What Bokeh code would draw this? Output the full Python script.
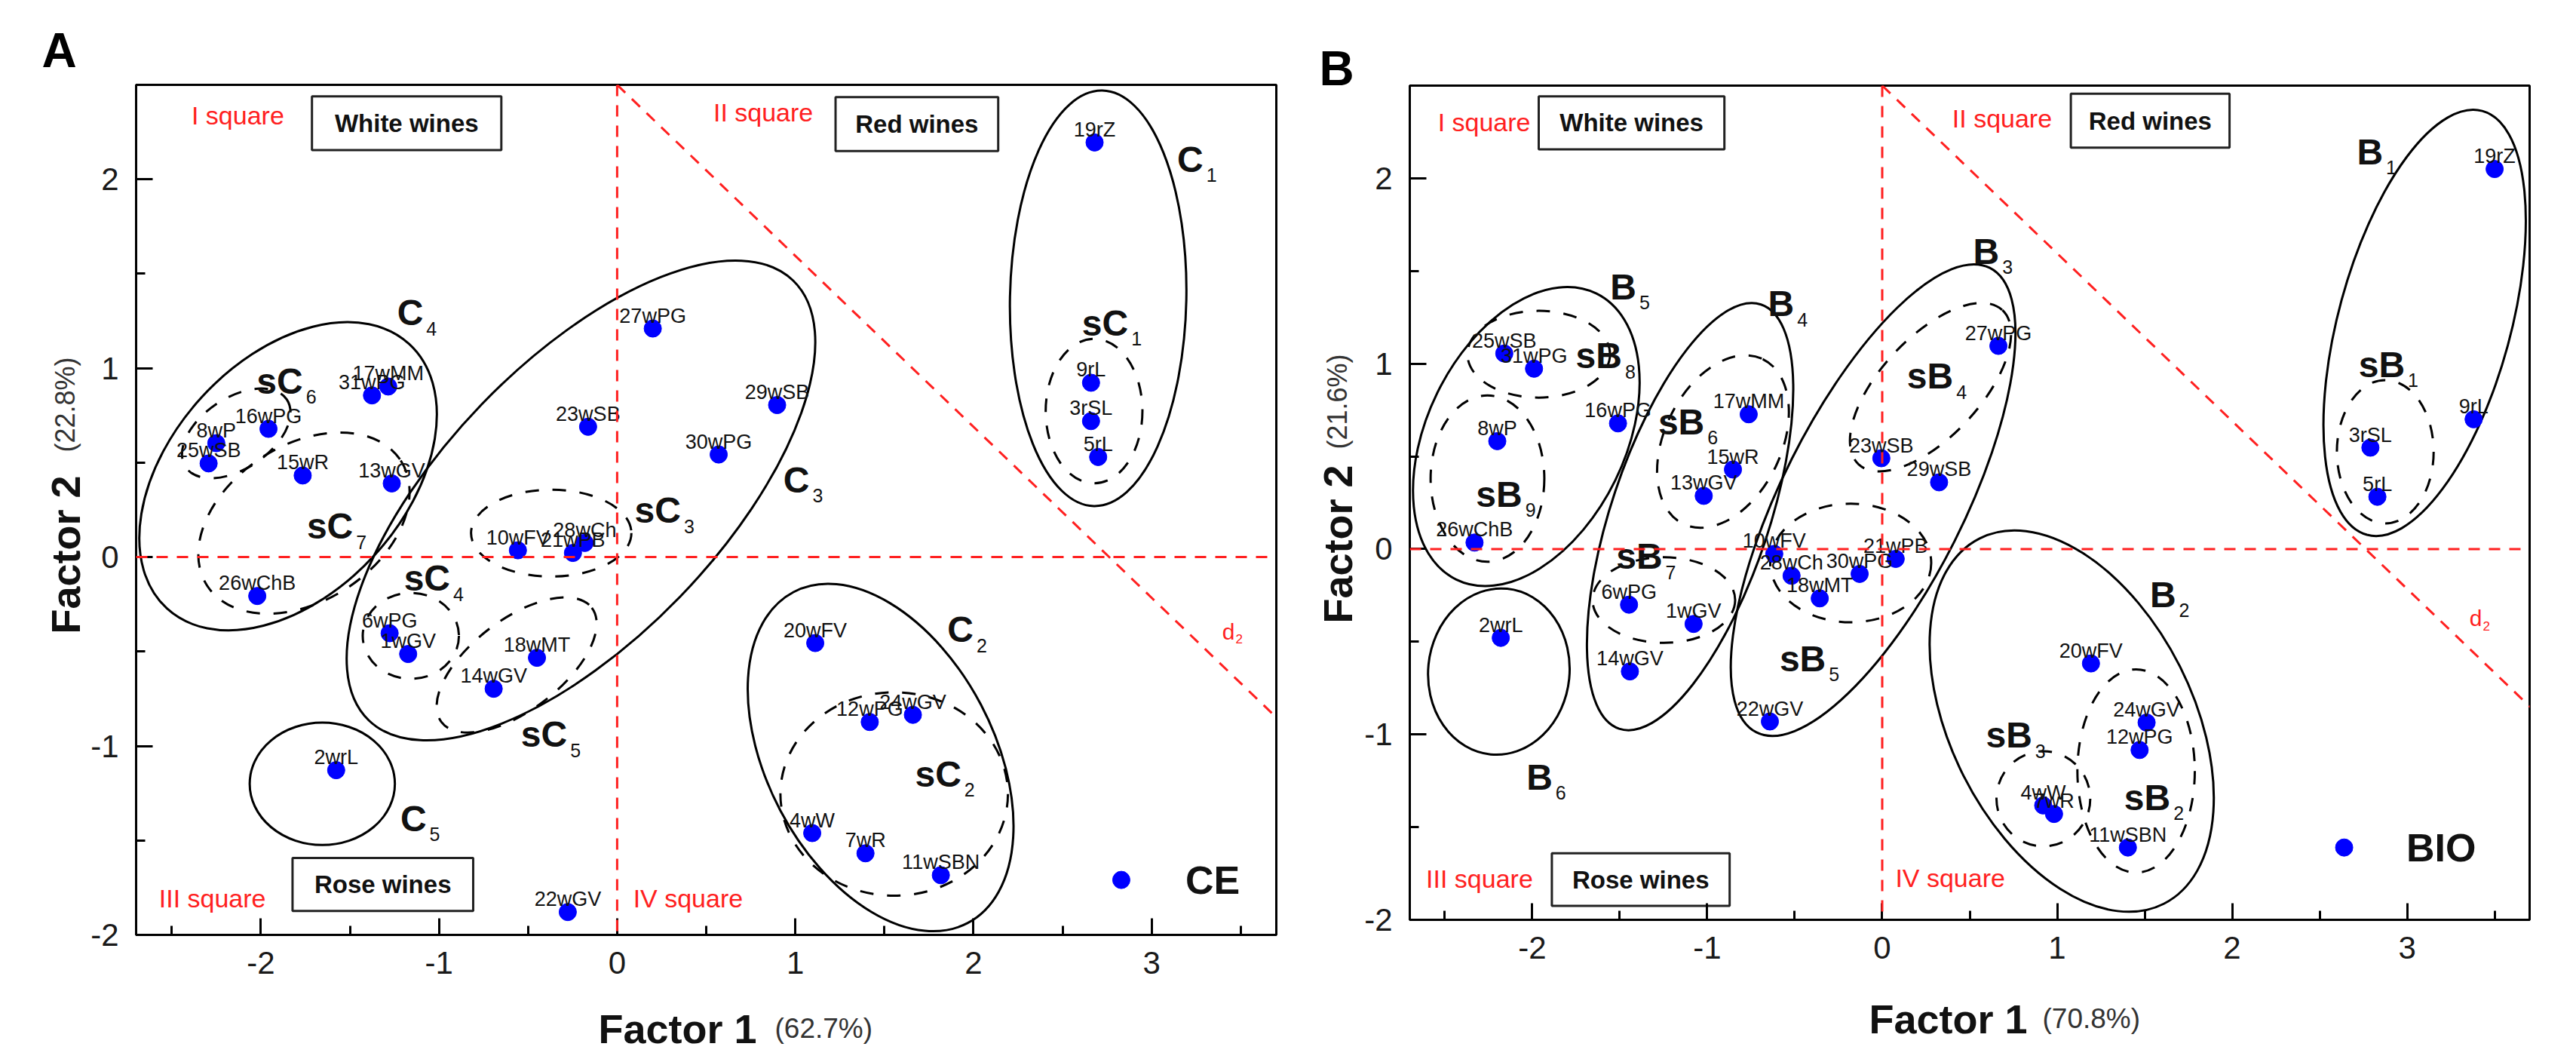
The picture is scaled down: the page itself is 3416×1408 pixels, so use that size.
import math
from bokeh.plotting import figure
from bokeh.models import Span, Slope, Range1d, SingleIntervalTicker
from bokeh.layouts import row, column
from bokeh.core.properties import value
from bokeh.embed import file_html
from bokeh.resources import INLINE

FONT = "Liberation Sans"

# ---------------- Panel A (CE) ----------------
a_names = ["1wGV", "2wrL", "3rSL", "4wW", "5rL", "6wPG", "7wR", "8wP", "9rL", "10wFV",
           "11wSBN", "12wPG", "13wGV", "14wGV", "15wR", "16wPG", "17wMM", "18wMT", "19rZ", "20wFV",
           "21wPB", "22wGV", "23wSB", "24wGV", "25wSB", "26wChB", "27wPG", "28wCh", "29wSB", "30wPG", "31wPG"]
a_f1 = [-1.173, -1.577, 2.66, 1.095, 2.70, -1.277, 1.394, -2.25, 2.66, -0.557,
        1.817, 1.418, -1.265, -0.693, -1.765, -1.957, -1.285, -0.45, 2.68, 1.112,
        -0.248, -0.277, -0.163, 1.66, -2.293, -2.02, 0.2, -0.182, 0.898, 0.57, -1.376]
a_f2 = [-0.513, -1.128, 0.72, -1.461, 0.53, -0.403, -1.568, 0.603, 0.923, 0.036,
        -1.684, -0.873, 0.39, -0.697, 0.432, 0.679, 0.903, -0.533, 2.195, -0.455,
        0.022, -1.879, 0.69, -0.835, 0.496, -0.206, 1.21, 0.075, 0.805, 0.543, 0.856]

# clusters (solid) and sub-clusters (dashed): centre, width, height, angle (rad)
a_cl_x = [2.70, 1.479, -0.203, -1.847, -1.655]
a_cl_y = [1.37, -1.061, 0.30, 0.428, -1.20]
a_cl_w = [0.99, 1.273, 3.43, 2.013, 0.815]
a_cl_h = [2.20, 1.98, 1.464, 1.24, 0.648]
a_cl_a = [-0.02, 0.485, 0.803, 0.829, 0.0]

a_sc_x = [2.677, 1.555, -0.37, -1.158, -0.564, -2.138, -1.758]
a_sc_y = [0.773, -1.254, 0.127, -0.417, -0.571, 0.655, 0.18]
a_sc_w = [0.543, 1.277, 0.90, 0.54, 1.06, 0.683, 1.294]
a_sc_h = [0.765, 1.077, 0.46, 0.455, 0.48, 0.375, 0.826]
a_sc_a = [0.0, 0.0, 0.0, 0.0, 0.65, 0.59, 0.574]

a_lab_main = ["C", "sC", "C", "sC", "C", "sC", "C", "sC", "C", "sC", "sC", "sC"]
a_lab_sub = ["1", "1", "2", "2", "3", "3", "4", "4", "5", "5", "6", "7"]
a_lab_x = [3.29, 2.869, 2.0, 1.932, 1.08, 0.358, -1.088, -0.937, -1.07, -0.28, -1.764, -1.482]
a_lab_y = [2.105, 1.239, -0.384, -1.148, 0.409, 0.248, 1.293, -0.113, -1.384, -0.939, 0.932, 0.163]

a_sq_text = ["I square", "II square", "III square", "IV square"]
a_sq_x = [-2.389, 0.54, -2.572, 0.09]
a_sq_y = [2.338, 2.355, -1.805, -1.805]

a_box_text = ["White wines", "Red wines", "Rose wines"]
a_box_l = [-1.713, 1.226, -1.822]
a_box_r = [-0.65, 2.139, -0.808]
a_box_t = [2.439, 2.435, -1.593]
a_box_b = [2.155, 2.15, -1.873]

a_d2 = (3.467, -0.394)
a_leg = ("CE", 2.83, -1.709, 3.19)
a_axis = ("Factor 1", "(62.7%)", "Factor 2", "(22.8%)")

# ---------------- Panel B (BIO) ----------------
b_names = a_names
b_f1 = [-1.078, -2.18, 2.79, 0.92, 2.83, -1.447, 0.982, -2.20, 3.38, -0.617,
        1.404, 1.471, -1.02, -1.442, -0.853, -1.51, -0.763, -0.357, 3.50, 1.193,
        0.077, -0.642, -0.005, 1.511, -2.16, -2.33, 0.664, -0.518, 0.325, -0.129, -1.99]
b_f2 = [-0.404, -0.479, 0.547, -1.383, 0.282, -0.30, -1.429, 0.582, 0.70, -0.026,
        -1.61, -1.084, 0.287, -0.66, 0.429, 0.678, 0.727, -0.266, 2.05, -0.617,
        -0.053, -0.93, 0.49, -0.936, 1.055, 0.035, 1.096, -0.144, 0.36, -0.134, 0.973]

b_cl_x = [3.10, 1.083, -0.052, -1.098, -2.034, -2.191]
b_cl_y = [1.22, -0.928, 0.264, 0.175, 0.607, -0.661]
b_cl_w = [2.51, 2.338, 2.97, 2.556, 1.82, 0.808]
b_cl_h = [0.93, 1.308, 0.984, 0.853, 1.07, 0.898]
b_cl_a = [1.305, -1.104, 1.105, 1.248, 1.115, -0.1]

b_sc_x = [2.875, 1.451, 0.921, 0.276, -0.18, -0.91, -1.248, -1.963, -2.256]
b_sc_y = [0.525, -1.197, -1.347, 0.873, -0.075, 0.58, -0.275, 1.051, 0.38]
b_sc_w = [0.553, 0.671, 0.536, 1.205, 0.92, 1.046, 0.815, 0.815, 0.65]
b_sc_h = [0.773, 1.097, 0.513, 0.537, 0.64, 0.63, 0.462, 0.468, 0.897]
b_sc_a = [0.0, 0.0, 0.0, 0.82, 0.0, 1.122, 0.0, 0.0, 0.0]

b_lab_main = ["B", "sB", "B", "sB", "B", "sB", "B", "sB", "B", "sB", "B", "sB", "sB", "sB", "sB"]
b_lab_sub = ["1", "1", "2", "2", "3", "3", "4", "4", "5", "5", "6", "6", "7", "8", "9"]
b_lab_x = [2.862, 2.987, 1.679, 1.647, 0.669, 0.857, -0.503, 0.406, -1.405, -0.322, -1.884, -1.016, -1.256, -1.487, -2.057]
b_lab_y = [2.142, 0.996, -0.246, -1.34, 1.605, -1.005, 1.324, 0.933, 1.415, -0.591, -1.231, 0.687, -0.039, 1.042, 0.296]

b_sq_text = a_sq_text
b_sq_x = [-2.54, 0.40, -2.607, 0.075]
b_sq_y = [2.302, 2.324, -1.779, -1.773]

b_box_text = a_box_text
b_box_l = [-1.963, 1.078, -1.888]
b_box_r = [-0.902, 1.985, -0.872]
b_box_t = [2.442, 2.456, -1.641]
b_box_b = [2.156, 2.165, -1.925]

b_d2 = (3.428, -0.374)
b_leg = ("BIO", 2.64, -1.61, 2.995)
b_axis = ("Factor 1", "(70.8%)", "Factor 2", "(21.6%)")

X_RANGE = (-2.7, 3.7)
Y_RANGE = (-2.0, 2.5)
D2_SLOPE, D2_INTERCEPT = -0.905, 2.5
TICK_OVERRIDES = {-2: "-2", -1: "-1"}

INK = "#111111"
RED = "#ff2020"


def main_panel(names, f1, f2, cl, sc, labs, sq, boxes, d2, leg, size, borders):
    w, h = size
    bl, br, bt, bb = borders
    p = figure(width=w, height=h, x_range=Range1d(*X_RANGE), y_range=Range1d(*Y_RANGE),
               output_backend="svg", toolbar_location=None, title=None,
               min_border_left=bl, min_border_right=br, min_border_top=bt, min_border_bottom=bb)
    p.frame_align = False
    p.grid.visible = False
    p.outline_line_color = "black"
    p.outline_line_width = 3
    for ax in (p.xaxis[0], p.yaxis[0]):
        ax.ticker = SingleIntervalTicker(interval=1, num_minor_ticks=2)
        ax.major_tick_in = 22
        ax.major_tick_out = 0
        ax.minor_tick_in = 12
        ax.minor_tick_out = 0
        ax.major_tick_line_width = 3
        ax.minor_tick_line_width = 3
        ax.axis_line_width = 3
        ax.axis_line_color = "black"
        ax.major_label_text_font = FONT
        ax.major_label_text_font_size = "42px"
        ax.major_label_text_color = "#1a1a1a"
        ax.major_label_overrides = TICK_OVERRIDES
    p.xaxis.major_label_standoff = 22
    p.yaxis.major_label_standoff = 23

    # red reference lines
    p.add_layout(Span(location=0, dimension="width", line_color=RED, line_dash="15 12", line_width=3))
    p.add_layout(Span(location=0, dimension="height", line_color=RED, line_dash="15 12", line_width=3))
    p.add_layout(Slope(gradient=D2_SLOPE, y_intercept=D2_INTERCEPT, line_color=RED, line_dash="15 12", line_width=3))

    # ellipses
    p.ellipse(x=cl[0], y=cl[1], width=cl[2], height=cl[3], angle=cl[4],
              fill_color=None, line_color="black", line_width=3)
    p.ellipse(x=sc[0], y=sc[1], width=sc[2], height=sc[3], angle=sc[4],
              fill_color=None, line_color="black", line_width=3, line_dash="18 18")

    # boxes
    btext, l, r, t, b = boxes
    p.quad(left=l, right=r, top=t, bottom=b, fill_color=None, line_color="#222222", line_width=3)
    p.text(x=[(a + c) / 2 for a, c in zip(l, r)], y=[(a + c) / 2 for a, c in zip(t, b)], text=btext,
           text_font=value(FONT), text_font_size="33px", text_font_style="bold",
           text_align="center", text_baseline="middle", text_color=INK)

    # square labels
    p.text(x=sq[1], y=sq[2], text=sq[0], text_font=value(FONT), text_font_size="34px",
           text_color=RED, text_align="left", text_baseline="middle")

    # points
    p.scatter(x=f1, y=f2, size=23, color="#0000ff", marker="circle")
    p.text(x=f1, y=f2, text=names, text_font=value(FONT), text_font_size="27px",
           text_align="center", text_baseline="alphabetic", y_offset=-17, text_color=INK)

    # cluster labels
    mtxt, stxt, lx, ly = labs
    p.text(x=lx, y=ly, text=mtxt, text_font=value(FONT), text_font_size="48px", text_font_style="bold",
           text_align="right", text_baseline="alphabetic", text_color=INK)
    p.text(x=lx, y=ly, text=stxt, text_font=value(FONT), text_font_size="25px",
           text_align="left", text_baseline="alphabetic", x_offset=4, y_offset=21, text_color=INK)

    # d2
    p.text(x=[d2[0]], y=[d2[1]], text=["d"], text_font=value(FONT), text_font_size="30px",
           text_color=RED, text_align="right", text_baseline="alphabetic")
    p.text(x=[d2[0]], y=[d2[1]], text=["2"], text_font=value(FONT), text_font_size="17px",
           text_color=RED, text_align="left", text_baseline="alphabetic", x_offset=1, y_offset=10)

    # legend
    p.scatter(x=[leg[1]], y=[leg[2]], size=23, color="#0000ff", marker="circle")
    p.text(x=[leg[3]], y=[leg[2]], text=[leg[0]], text_font=value(FONT), text_font_size="52px",
           text_font_style="bold", text_align="left", text_baseline="middle", text_color=INK)
    return p


def strip(w, h):
    s = figure(width=w, height=h, x_range=Range1d(0, w), y_range=Range1d(0, h),
               x_axis_type=None, y_axis_type=None, output_backend="svg", toolbar_location=None,
               title=None, min_border=0, min_border_left=0, min_border_right=0,
               min_border_top=0, min_border_bottom=0)
    s.frame_align = False
    s.grid.visible = False
    s.outline_line_color = None
    return s


def left_strip(w, h, tag, tag_xy, ytitle, ypct, base_x, y1, y2):
    s = strip(w, h)
    s.text(x=[tag_xy[0]], y=[tag_xy[1]], text=[tag], text_font=value(FONT), text_font_size="64px",
           text_font_style="bold", text_align="left", text_baseline="alphabetic", text_color="black")
    s.text(x=[base_x], y=[y1], text=[ytitle], text_font=value(FONT), text_font_size="54px",
           text_font_style="bold", angle=math.pi / 2, text_align="left", text_baseline="alphabetic",
           text_color=INK)
    s.text(x=[base_x], y=[y2], text=[ypct], text_font=value(FONT), text_font_size="36px",
           angle=math.pi / 2, text_align="left", text_baseline="alphabetic", text_color="#333333")
    return s


def bottom_strip(w, h, xtitle, xpct, x1, x2, base_y):
    s = strip(w, h)
    s.text(x=[x1], y=[base_y], text=[xtitle], text_font=value(FONT), text_font_size="54px",
           text_font_style="bold", text_align="left", text_baseline="alphabetic", text_color=INK)
    s.text(x=[x2], y=[base_y], text=[xpct], text_font=value(FONT), text_font_size="37px",
           text_align="left", text_baseline="alphabetic", text_color="#333333")
    return s


# Panel A: x 8..1708, y 8..1400
pA = main_panel(a_names, a_f1, a_f2,
                (a_cl_x, a_cl_y, a_cl_w, a_cl_h, a_cl_a),
                (a_sc_x, a_sc_y, a_sc_w, a_sc_h, a_sc_a),
                (a_lab_main, a_lab_sub, a_lab_x, a_lab_y),
                (a_sq_text, a_sq_x, a_sq_y),
                (a_box_text, a_box_l, a_box_r, a_box_t, a_box_b),
                a_d2, a_leg, (1583, 1317), (62, 8, 112, 78))
lA = left_strip(117, 1317, "A", (55, 1251), a_axis[2], a_axis[3], 86, 477, 718)
bA = bottom_strip(1700, 75, a_axis[0], a_axis[1], 793, 1027, 29)

# Panel B: x 1708..3408
pB = main_panel(b_names, b_f1, b_f2,
                (b_cl_x, b_cl_y, b_cl_w, b_cl_h, b_cl_a),
                (b_sc_x, b_sc_y, b_sc_w, b_sc_h, b_sc_a),
                (b_lab_main, b_lab_sub, b_lab_x, b_lab_y),
                (b_sq_text, b_sq_x, b_sq_y),
                (b_box_text, b_box_l, b_box_r, b_box_t, b_box_b),
                b_d2, b_leg, (1594, 1297), (61, 46, 113, 78))
lB = left_strip(106, 1297, "B", (49, 1207), b_axis[2], b_axis[3], 73, 471, 702)
bB = bottom_strip(1700, 95, b_axis[0], b_axis[1], 778, 1008, 42)

layout = row(column(row(lA, pA), bA), column(row(lB, pB), bB))
open("out.html", "w").write(file_html(layout, INLINE))
